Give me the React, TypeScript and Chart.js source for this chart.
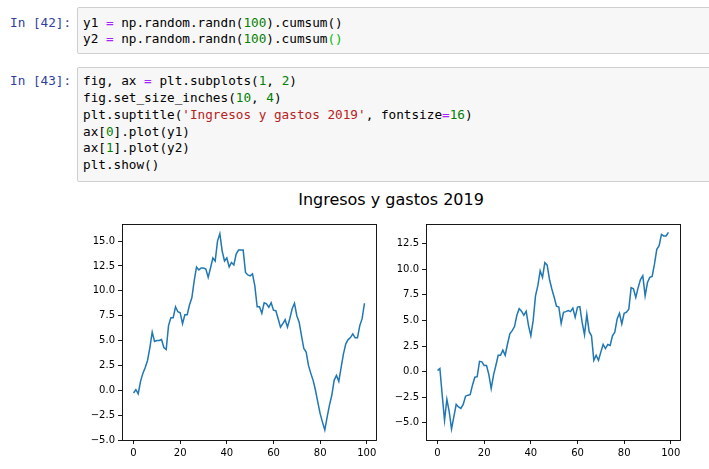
import React, { useEffect, useRef } from 'react';
import Chart from 'chart.js/auto';

// ---- data ----
const xIndex = [
  0, 1, 2, 3, 4, 5, 6, 7, 8, 9, 10, 11, 12, 13, 14, 15, 16, 17, 18, 19,
  20, 21, 22, 23, 24, 25, 26, 27, 28, 29, 30, 31, 32, 33, 34, 35, 36, 37, 38, 39,
  40, 41, 42, 43, 44, 45, 46, 47, 48, 49, 50, 51, 52, 53, 54, 55, 56, 57, 58, 59,
  60, 61, 62, 63, 64, 65, 66, 67, 68, 69, 70, 71, 72, 73, 74, 75, 76, 77, 78, 79,
  80, 81, 82, 83, 84, 85, 86, 87, 88, 89, 90, 91, 92, 93, 94, 95, 96, 97, 98, 99,
];

const y1 = [
  -0.27, 0.07, -0.35, 0.9, 1.7, 2.3, 3.0, 4.3, 5.85, 4.9,
  5.0, 5.0, 5.1, 4.3, 4.1, 6.5, 7.3, 7.3, 8.4, 7.9,
  7.8, 6.7, 7.6, 7.6, 8.6, 9.3, 11.0, 12.4, 12.1, 12.3,
  12.3, 12.2, 11.35, 12.3, 13.3, 13.0, 15.0, 15.75, 14.0, 13.0,
  13.3, 12.4, 12.85, 12.6, 13.7, 14.1, 14.1, 14.1, 11.85, 11.6,
  11.5, 11.7, 10.5, 8.4, 8.4, 7.75, 8.8, 8.7, 8.35, 8.8,
  8.05, 8.0, 7.2, 6.35, 6.7, 7.1, 6.35, 7.2, 8.2, 8.75,
  7.5, 6.85, 5.5, 4.2, 3.85, 2.5, 1.7, 1.0, 0.0, -1.2,
  -2.35, -3.2, -4.0, -2.7, -1.5, -0.5, 1.0, 1.5, 0.9, 2.3,
  3.67, 4.67, 5.1, 5.3, 5.67, 5.27, 5.27, 6.5, 7.2, 8.75,
];

const y2 = [
  0.1, 0.3, -2.3, -4.75, -2.7, -3.9, -5.6, -4.4, -3.2, -3.45,
  -3.6, -3.2, -2.4, -2.3, -2.25, -1.3, -0.55, -0.5, 1.0, 0.95,
  0.6, 0.6, -0.3, -1.65, -0.35, 0.6, 1.6, 1.6, 2.1, 1.6,
  2.7, 3.7, 4.0, 4.4, 5.5, 6.15, 5.9, 5.5, 5.9, 4.5,
  3.5, 5.0, 7.4, 8.4, 9.85, 9.2, 10.65, 10.4, 9.0, 8.07,
  7.26, 6.4, 6.3, 4.7, 5.8, 5.86, 5.96, 5.86, 6.2, 5.3,
  6.3, 6.35, 4.8, 3.6, 5.6, 3.9, 3.5, 1.1, 1.6, 1.1,
  1.9, 2.65, 2.25, 2.65, 2.55, 3.5, 3.85, 5.15, 5.7, 4.66,
  5.7, 5.8, 6.1, 8.2, 8.1, 7.25, 8.2, 9.0, 9.36, 7.4,
  8.7, 9.2, 9.3, 10.5, 11.95, 12.3, 13.4, 13.25, 13.25, 13.6,
];

const xTicks = [0, 20, 40, 60, 80, 100];
const y1Ticks = [-5, -2.5, 0, 2.5, 5, 7.5, 10, 12.5, 15];
const y2Ticks = [-5, -2.5, 0, 2.5, 5, 7.5, 10, 12.5];

const TITLE = 'Ingresos y gastos 2019';

// ---- code cells ----
const C_DEF = '#000';
const C_OP = '#AA22FF';
const C_NUM = '#008000';
const C_STR = '#BA2121';
const C_MATCH = '#00bb00';

type Tok = [string, string];
const cell1: Tok[][] = [
  [['y1 ', C_DEF], ['=', C_OP], [' np.random.randn(', C_DEF], ['100', C_NUM], [').cumsum()', C_DEF]],
  [['y2 ', C_DEF], ['=', C_OP], [' np.random.randn(', C_DEF], ['100', C_NUM], [').cumsum', C_DEF], ['()', C_MATCH]],
];
const cell2: Tok[][] = [
  [['fig, ax ', C_DEF], ['=', C_OP], [' plt.subplots(', C_DEF], ['1', C_NUM], [', ', C_DEF], ['2', C_NUM], [')', C_DEF]],
  [['fig.set_size_inches(', C_DEF], ['10', C_NUM], [', ', C_DEF], ['4', C_NUM], [')', C_DEF]],
  [['plt.suptitle(', C_DEF], ["'Ingresos y gastos 2019'", C_STR], [', fontsize', C_DEF], ['=', C_OP], ['16', C_NUM], [')', C_DEF]],
  [['ax[', C_DEF], ['0', C_NUM], ['].plot(y1)', C_DEF]],
  [['ax[', C_DEF], ['1', C_NUM], ['].plot(y2)', C_DEF]],
  [['plt.show()', C_DEF]],
];

const MONO = "'DejaVu Sans Mono', monospace";
const SANS = "'DejaVu Sans', sans-serif";

const framePlugin = {
  id: 'frame',
  afterDraw(chart: any) {
    const { ctx, chartArea: a } = chart;
    ctx.save();
    ctx.strokeStyle = '#000';
    ctx.lineWidth = 0.9;
    ctx.strokeRect(Math.round(a.left) + 0.5, Math.round(a.top) + 0.5, Math.round(a.right - a.left), Math.round(a.bottom - a.top));
    ctx.restore();
  },
};

const fmtY = (v: number) => v.toFixed(1).replace('-', '\u2212');

function makeChart(canvas: HTMLCanvasElement, ys: number[], yMin: number, yMax: number, yT: number[], yAxisW: number, padRight: number) {
  return new Chart(canvas, {
    type: 'line',
    data: {
      datasets: [
        {
          data: xIndex.map((x, i) => ({ x, y: ys[i] })),
          borderColor: '#1f77b4',
          borderWidth: 1.5,
          pointRadius: 0,
          tension: 0,
          fill: false,
        },
      ],
    },
    options: {
      responsive: false,
      animation: false,
      devicePixelRatio: 1,
      layout: { padding: { top: 8, right: padRight, left: 0, bottom: 0 } },
      plugins: { legend: { display: false }, tooltip: { enabled: false }, title: { display: false } },
      scales: {
        x: {
          type: 'linear',
          min: -4.95,
          max: 103.95,
          afterBuildTicks: (s: any) => {
            s.ticks = xTicks.map((v) => ({ value: v }));
          },
          afterFit: (s: any) => {
            s.height = 29;
          },
          border: { display: false },
          grid: { drawOnChartArea: false, drawTicks: true, tickLength: 4, color: '#000', lineWidth: 0.9 },
          ticks: {
            autoSkip: false,
            maxRotation: 0,
            padding: 3,
            color: '#000',
            font: { family: SANS, size: 10 },
            callback: (v: any) => String(v),
          },
        },
        y: {
          type: 'linear',
          min: yMin,
          max: yMax,
          afterBuildTicks: (s: any) => {
            s.ticks = yT.map((v) => ({ value: v }));
          },
          afterFit: (s: any) => {
            s.width = yAxisW;
          },
          border: { display: false },
          grid: { drawOnChartArea: false, drawTicks: true, tickLength: 4, color: '#000', lineWidth: 0.9 },
          ticks: {
            autoSkip: false,
            padding: 3,
            color: '#000',
            font: { family: SANS, size: 10 },
            callback: (v: any) => fmtY(Number(v)),
          },
        },
      },
    },
    plugins: [framePlugin],
  } as any);
}

function CodeLines({ lines, top }: { lines: Tok[][]; top: number }) {
  return (
    <div style={{ position: 'absolute', left: 83, top, fontFamily: MONO, fontSize: 12.7, lineHeight: '16.8px', whiteSpace: 'pre' }}>
      {lines.map((ln, i) => (
        <div key={i}>
          {ln.map((t, j) => (
            <span key={j} style={{ color: t[1] }}>
              {t[0]}
            </span>
          ))}
        </div>
      ))}
    </div>
  );
}

export default function App() {
  const c1 = useRef<HTMLCanvasElement>(null);
  const c2 = useRef<HTMLCanvasElement>(null);

  useEffect(() => {
    const a = makeChart(c1.current!, y1, -5.0, 16.72, y1Ticks, 44, 4);
    const b = makeChart(c2.current!, y2, -6.68, 14.42, y2Ticks, 46, 29);
    return () => {
      a.destroy();
      b.destroy();
    };
  }, []);

  const promptStyle: React.CSSProperties = {
    position: 'absolute',
    left: 10,
    fontFamily: MONO,
    fontSize: 12.7,
    lineHeight: '16.8px',
    color: '#303F9F',
    whiteSpace: 'pre',
  };
  const boxStyle: React.CSSProperties = {
    position: 'absolute',
    left: 77,
    width: 660,
    boxSizing: 'border-box',
    background: '#f7f7f7',
    border: '1px solid #cfcfcf',
    borderRadius: 2,
  };

  return (
    <div style={{ position: 'absolute', left: 0, top: 0, width: 709, height: 469, overflow: 'hidden', background: '#fff' }}>
      <div style={{ ...boxStyle, top: 7, height: 47 }} />
      <div style={{ ...promptStyle, top: 14.5 }}>In [42]:</div>
      <CodeLines lines={cell1} top={14.5} />

      <div style={{ ...boxStyle, top: 67, height: 115 }} />
      <div style={{ ...promptStyle, top: 73.3 }}>In [43]:</div>
      <CodeLines lines={cell2} top={73.3} />

      <div
        style={{
          position: 'absolute',
          left: 391,
          top: 190,
          transform: 'translateX(-50%)',
          fontFamily: SANS,
          fontSize: 16,
          lineHeight: '19px',
          color: '#000',
          whiteSpace: 'nowrap',
        }}
      >
        {TITLE}
      </div>

      <canvas ref={c1} width={302} height={254} style={{ position: 'absolute', left: 78, top: 215, width: 302, height: 254 }} />
      <canvas ref={c2} width={329} height={254} style={{ position: 'absolute', left: 380, top: 215, width: 329, height: 254 }} />
    </div>
  );
}
